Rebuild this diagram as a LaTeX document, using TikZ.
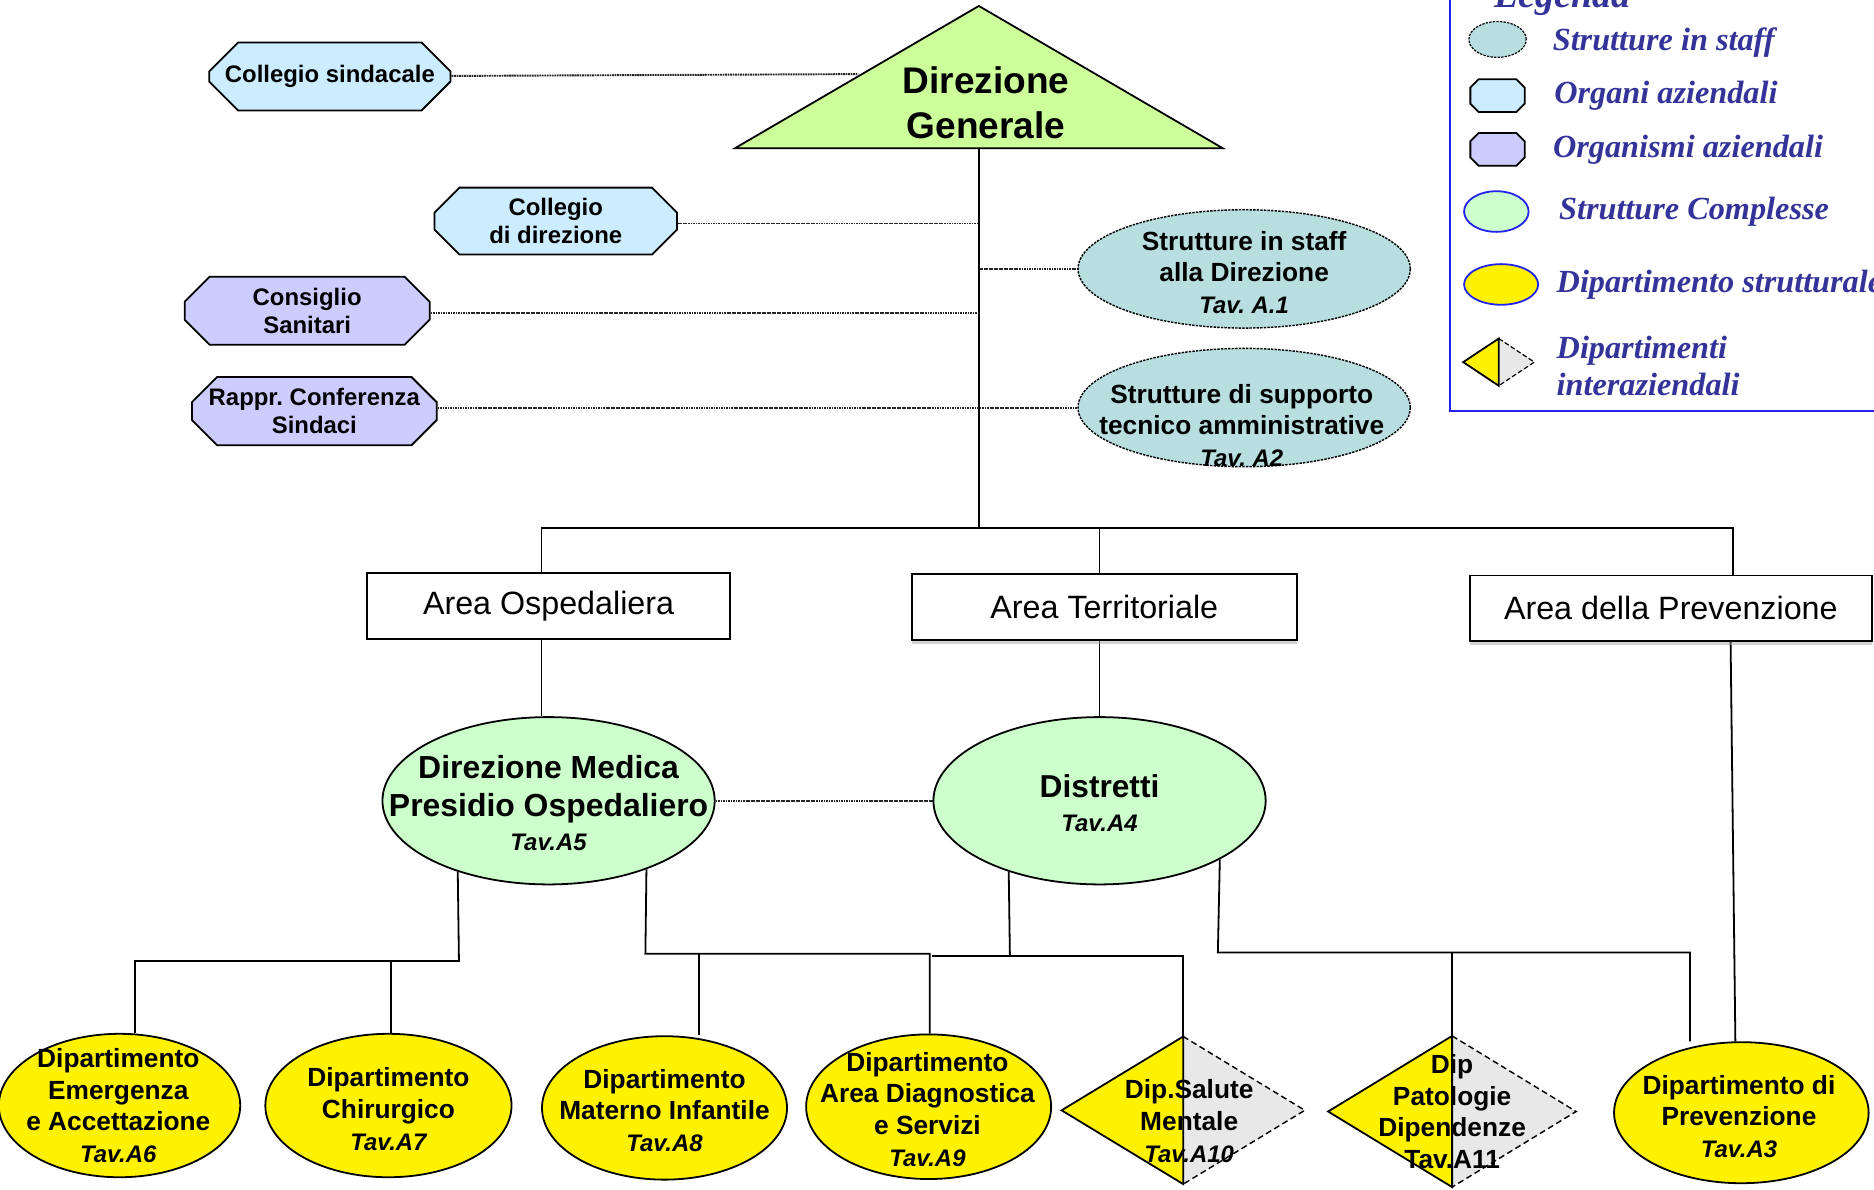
\documentclass[tikz,border=0pt]{standalone}
\usepackage{fontspec}
\setmainfont{Liberation Sans}
\newfontfamily\legfont{Liberation Serif}
\usetikzlibrary{
  backgrounds,
  positioning,
  shadows,
  shapes.geometric,
  shapes.misc,
}
\definecolor{staffcol}{HTML}{B8DEE0}
\definecolor{organicol}{HTML}{CCECFF}
\definecolor{organismicol}{HTML}{CCCCFF}
\definecolor{complcol}{HTML}{CCFFCC}
\definecolor{dgcol}{HTML}{CCFF99}
\definecolor{intercol}{HTML}{E8E8E8}
\definecolor{legcol}{HTML}{333399}
\definecolor{legline}{HTML}{2222EE}
\newcommand{\fsz}[2]{\fontsize{#1}{#2}\selectfont}
\newcommand{\tav}[1]{{\fontsize{20}{26}\selectfont\itshape #1}}
% small octagon drawn round a named node: #1 node, #2 fill
\newcommand{\octagon}[2]{%
  \filldraw[fill=#2,line width=1.5pt]
    ([xshift=7pt]#1.north west) -- ([xshift=-7pt]#1.north east) -- ([yshift=-7pt]#1.north east)
    -- ([yshift=7pt]#1.south east) -- ([xshift=-7pt]#1.south east) -- ([xshift=7pt]#1.south west)
    -- ([yshift=7pt]#1.south west) -- ([yshift=-7pt]#1.north west) -- cycle;}
\frenchspacing
\tikzset{
  organo/.style={chamfered rectangle,chamfered rectangle xsep=13pt,chamfered rectangle ysep=14pt,
    draw,line width=1.5pt,fill=organicol,minimum width=202pt,minimum height=57pt,inner sep=1pt,
    align=center,font=\fsz{20}{23}\bfseries},
  organismo/.style={organo,fill=organismicol},
  twolines/.style={chamfered rectangle ysep=8pt,inner ysep=0pt},
  smallbox/.style={rectangle,minimum width=44pt,minimum height=26pt,inner sep=0pt},
  staff/.style={ellipse,draw,dash pattern=on 2pt off 1pt,line width=1.2pt,fill=staffcol,
    minimum width=278pt,minimum height=99pt,inner sep=0pt},
  compl/.style={ellipse,draw,line width=1.5pt,fill=complcol,minimum width=278pt,minimum height=140pt,inner sep=0pt},
  dept/.style={ellipse,draw,line width=1.5pt,fill=yellow,minimum width=204pt,minimum height=120pt,inner sep=0pt},
  inter/.style={diamond,minimum width=202pt,minimum height=122pt,inner sep=0pt},
  area/.style={rectangle,draw,line width=1.5pt,fill=white,minimum height=55pt,font=\fsz{27}{32}},
  areashadow/.style={drop shadow={shadow xshift=0pt,shadow yshift=-3pt,fill=black!35}},
  txt/.style={align=center,inner sep=0pt,font=\fsz{22}{26.5}\bfseries},
  link/.style={line width=1.6pt,black!85,dash pattern=on 1.5pt off 0.6pt},
  treeline/.style={line width=1.5pt},
  legtxt/.style={inner sep=0pt,text=legcol,align=left,font=\legfont\fsz{27}{31}\bfseries\itshape},
}

\begin{document}
\begin{tikzpicture}[x=1pt,y=-1pt,line width=1.5pt,node distance=0pt and 21pt]

  \useasboundingbox (0,0) rectangle (1568,995);
  \clip (0,0) rectangle (1568,995);

  % Direzione Generale
  \coordinate (dgtop) at (819,5);
  \coordinate (dgleft) at (615,124);
  \coordinate (dgright) at (1023,124);
  \coordinate (dgbase) at (819,124);
  \coordinate (dgin) at (718,62);
  \coordinate (spine) at (819,442);
  \filldraw[fill=dgcol] (dgtop) -- (dgright) -- (dgleft) -- cycle;
  \node[align=center,inner sep=0pt,font=\fsz{31}{37}\bfseries] (dg) at (825,86) {Direzione\\Generale};

  % organi e organismi
  \node[organo] (csind) at (276,64) {Collegio sindacale};
  \node[organo,twolines,minimum width=203pt,minimum height=56pt] (cdir) at (465,185) {Collegio\\di direzione};
  \node[organismo,twolines,minimum width=205pt] (csan) at (257,260) {Consiglio\\Sanitari};
  \node[organismo,twolines] (rcs) at (263,344) {Rappr. Conferenza\\Sindaci};

  % strutture in staff
  \node[staff] (sstaff) at (1041,225) {};
  \node[txt] (sstafft) at (1041,228) {Strutture in staff\\alla Direzione\\\tav{Tav. A.1}};
  \node[staff] (ssupp) at (1041,341) {};
  \node[txt] (ssuppt) at (1039,356) {Strutture di supporto\\tecnico amministrative\\\tav{Tav. A2}};

  % aree
  \node[area,minimum width=304pt] (aosp) at (459,507) {Area Ospedaliera};
  \node[area,areashadow,minimum width=322pt] (aterr) at (924,508) {Area Territoriale};
  \node[area,areashadow,minimum width=336pt] (aprev) at (1398,509) {Area della Prevenzione};
  \coordinate (busl) at (453,442);
  \coordinate (bust) at (920,442);
  \coordinate (busr) at (1450,442);

  % strutture complesse
  \node[compl] (dmed) at (459,670) {};
  \node[txt,font=\fsz{26.7}{32}\bfseries] (dmedt) at (459,672) {Direzione Medica\\Presidio Ospedaliero\\[-4pt]\tav{Tav.A5}};
  \node[compl] (distr) at (920,670) {};
  \node[txt,font=\fsz{26.5}{28}\bfseries] (distrt) at (920,672) {Distretti\\\tav{Tav.A4}};

  % dipartimenti
  \node[dept,minimum width=202pt] (a6) at (100,925) {};
  \node[txt] (a6t) at (99,925) {Dipartimento\\Emergenza\\e Accettazione\\\tav{Tav.A6}};
  \node[dept,minimum width=206pt] (a7) at (325,925) {};
  \node[txt] (a7t) at (325,928) {Dipartimento\\Chirurgico\\\tav{Tav.A7}};
  \node[dept,minimum width=205pt] (a8) at (556,927) {};
  \node[txt] (a8t) at (556,929) {Dipartimento\\Materno Infantile\\\tav{Tav.A8}};
  \node[dept,minimum width=205pt,minimum height=121pt] (a9) at (777,926) {};
  \node[txt] (a9t) at (776,928) {Dipartimento\\Area Diagnostica\\e Servizi\\\tav{Tav.A9}};
  \node[dept,minimum width=213pt,minimum height=118pt] (a3) at (1457,931) {};
  \node[txt] (a3t) at (1455,934) {Dipartimento di\\Prevenzione\\\tav{Tav.A3}};

  % dipartimenti interaziendali
  \node[inter] (a10) at (990,929) {};
  \node[inter,minimum width=206pt,minimum height=125pt] (a11) at (1215,930) {};
  \foreach \d in {a10,a11} {
    \fill[intercol] (\d.north) -- (\d.east) -- (\d.south) -- cycle;
    \draw[line width=1.2pt,dash pattern=on 5pt off 3pt] (\d.north) -- (\d.east) -- (\d.south);
    \filldraw[fill=yellow] (\d.north) -- (\d.west) -- (\d.south) -- cycle;
  }
  \node[txt] (a10t) at (995,938) {Dip.Salute\\Mentale\\\tav{Tav.A10}};
  \node[txt] (a11t) at (1215,930) {Dip\\Patologie\\Dipendenze\\Tav.A11};

  % collegamenti
  \begin{scope}[on background layer]
    \draw[treeline] (dgbase) -- (spine);
    \draw[link] (csind) -- (dgin);
    \draw[link] ([yshift=-2pt]cdir.east) -- ([yshift=-2pt]cdir.east -| spine);
    \draw[link] ([yshift=-2pt]csan.east) -- ([yshift=-2pt]csan.east -| spine);
    \draw[link] (sstaff.west -| spine) -- (sstaff.west);
    \draw[link] ([yshift=3pt]rcs.east) -- ([yshift=3pt]rcs.east -| ssupp.west);
    \draw[treeline] (busl |- aosp.north) -- (busl) -- (busr) -- (busr |- aprev.north);
    \draw[treeline] (bust) -- (bust |- aterr.north);
    \draw[treeline] (busl |- aosp.south) -- (busl |- dmed.north);
    \draw[treeline] (bust |- aterr.south) -- (bust |- distr.north);
    \draw[link] (dmed.east) -- (distr.west);
    \coordinate (j1) at (384,804);
    \coordinate (j2) at (540,798);
    \coordinate (j3) at (845,800);
    \coordinate (j4) at (1019,797);
    \draw[treeline] (dmed.218) -- (j1) -| ([xshift=13pt]a6.north);
    \draw[treeline] ([xshift=2pt]a7.north |- j1) -- ([xshift=2pt]a7.north);
    \draw[treeline] (dmed.-35) -- (j2) -| ([xshift=1pt]a9.north);
    \draw[treeline] ([xshift=29pt]a8.north |- j2) -- ([xshift=29pt]a8.north);
    \draw[treeline] (distr.218) -- (j3);
    \draw[treeline] ([xshift=3pt]a9.north |- j3) -| (a10.north);
    \draw[treeline] (distr.-26) -- (j4) -| ([xshift=-43pt]a3.north);
    \draw[treeline] (a11.north |- j4) -- (a11.north);
    \draw[treeline] ([xshift=50pt]aprev.south) -- ([xshift=-5pt]a3.north);
  \end{scope}

  % legenda
  \draw[legline,line width=2pt] (1213,-5) -- (1213,344) -- (1575,344);
  \node[legtxt,anchor=base west,font=\legfont\fsz{32}{36}\bfseries\itshape] (legt) at (1250,6) {Legenda};
  \node[staff,minimum width=48pt,minimum height=30pt,line width=1pt] (lstaff) at (1253,33) {};
  \node[legtxt,right=of lstaff,yshift=-3pt] (lstafft) {Strutture in staff};
  \node[smallbox] (lorg) at (1253,80) {};
  \octagon{lorg}{organicol}
  \node[legtxt,right=24pt of lorg] (lorgt) {Organi aziendali};
  \node[smallbox] (lorgm) at (1253,125) {};
  \octagon{lorgm}{organismicol}
  \node[legtxt,right=23pt of lorgm] (lorgmt) {Organismi aziendali};
  \node[compl,draw=legline,minimum width=54pt,minimum height=34pt] (lcompl) at (1252,177) {};
  \node[legtxt,right=24pt of lcompl] (lcomplt) {Strutture Complesse};
  \node[dept,draw=legline,minimum width=62pt,minimum height=34pt] (ldept) at (1256,238) {};
  \node[legtxt,right=14pt of ldept] (ldeptt) {Dipartimento strutturale};
  \node[inter,minimum width=58pt,minimum height=38pt] (linter) at (1254,303) {};
  \fill[intercol] (linter.north) -- (linter.east) -- (linter.south) -- cycle;
  \draw[line width=1pt,dash pattern=on 4pt off 2pt] (linter.north) -- (linter.east) -- (linter.south);
  \filldraw[fill=yellow] (linter.north) -- (linter.west) -- (linter.south) -- cycle;
  \node[legtxt,right=18pt of linter,yshift=-3pt] (lintert) {Dipartimenti\\interaziendali};

\end{tikzpicture}
\end{document}
